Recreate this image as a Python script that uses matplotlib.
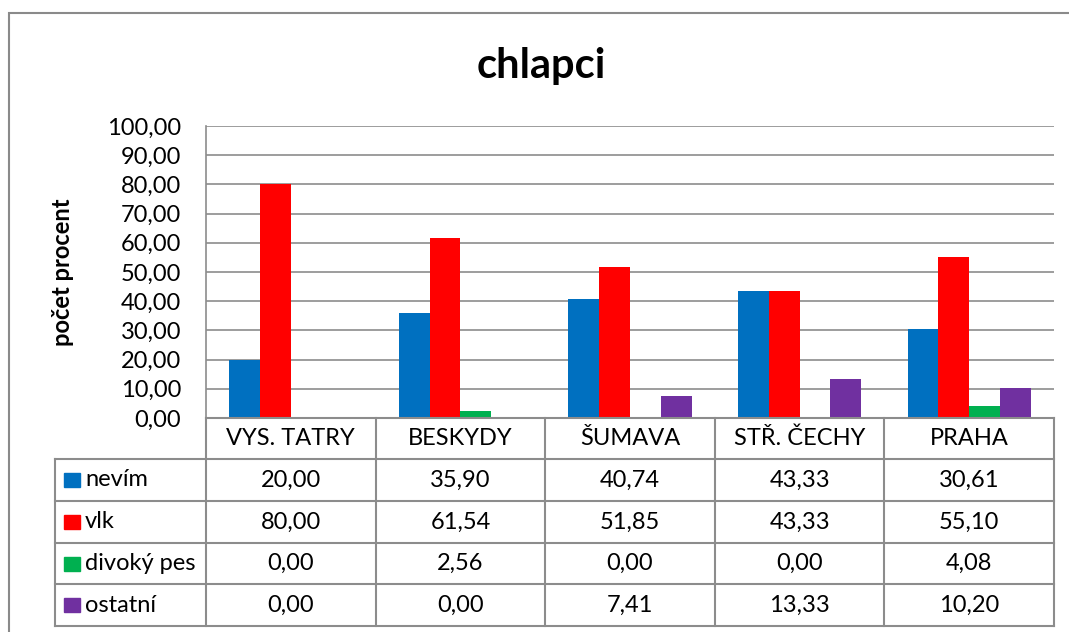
import matplotlib
matplotlib.use("Agg")
import matplotlib.pyplot as plt
from matplotlib.patches import Rectangle
from matplotlib.lines import Line2D
import numpy as np

plt.rcParams['font.family'] = ['Lato', 'DejaVu Sans']

categories = ['VYS. TATRY', 'BESKYDY', 'ŠUMAVA', 'STŘ. ČECHY', 'PRAHA']
series_names = ['nevím', 'vlk', 'divoký pes', 'ostatní']
nevim = [20.00, 35.90, 40.74, 43.33, 30.61]
vlk = [80.00, 61.54, 51.85, 43.33, 55.10]
divoky_pes = [0.00, 2.56, 0.00, 0.00, 4.08]
ostatni = [0.00, 0.00, 7.41, 13.33, 10.20]
colors = ['#0070C0', '#FF0000', '#00B050', '#7030A0']
yticks = np.arange(0, 101, 10)

series = [nevim, vlk, divoky_pes, ostatni]

W, H = 1069, 632
fig = plt.figure(figsize=(W / 100, H / 100), dpi=100)

def fx(x):
    return x / W

def fy(y):
    return 1 - y / H

grid_col = '#8c8c8c'
fs = 17

# plot area (pixel coords of the reference)
left, right, top, bottom = 206, 1054, 126, 418
ax = fig.add_axes([fx(left), fy(bottom), fx(right - left), (bottom - top) / H])

n = len(series)
gap = 1.5
bw = 1 / (n + gap)
x = np.arange(len(categories))
for i, (vals, c) in enumerate(zip(series, colors)):
    ax.bar(x - n * bw / 2 + bw * (i + 0.5), vals, width=bw, color=c, zorder=3)

ax.set_xlim(-0.5, len(categories) - 0.5)
ax.set_ylim(0, 100)
ax.set_yticks(yticks)
ax.set_yticklabels([f"{v:.2f}".replace('.', ',') for v in yticks], fontsize=fs)
ax.set_xticks([])
ax.tick_params(axis='y', length=0, pad=18)
ax.yaxis.grid(True, color=grid_col, linewidth=1.2, zorder=0)
for s in ['top', 'right', 'bottom']:
    ax.spines[s].set_visible(False)
ax.spines['left'].set_color(grid_col)
ax.spines['left'].set_linewidth(1.2)

# outer frame
fig.patches.append(Rectangle((fx(9), fy(640)), fx(1080 - 9), (640 - 13) / H,
                             transform=fig.transFigure, fill=False,
                             edgecolor='#8a8a8a', linewidth=1.5))

fig.text(fx(541), fy(66), 'chlapci', ha='center', va='center',
         fontsize=30, fontweight='bold')
fig.text(fx(63), fy(272), 'počet procent', ha='center', va='center',
         rotation=90, fontsize=17, fontweight='bold')

# data table
col_edges = np.linspace(left, right, len(categories) + 1)
row_edges = [418, 459, 501, 543, 584, 626]
tleft = 55

def hline(y, x0, x1):
    fig.lines.append(Line2D([fx(x0), fx(x1)], [fy(y), fy(y)], transform=fig.transFigure,
                            color=grid_col, linewidth=1.5))

def vline(x0, y0, y1):
    fig.lines.append(Line2D([fx(x0), fx(x0)], [fy(y0), fy(y1)], transform=fig.transFigure,
                            color=grid_col, linewidth=1.5))

hline(row_edges[0], left, right)
for y in row_edges[1:]:
    hline(y, tleft, right)
for xe in col_edges:
    vline(xe, row_edges[0], row_edges[-1])
vline(tleft, row_edges[1], row_edges[-1])

for j, cat in enumerate(categories):
    cx = (col_edges[j] + col_edges[j + 1]) / 2
    cy = (row_edges[0] + row_edges[1]) / 2
    fig.text(fx(cx), fy(cy), cat, ha='center', va='center', fontsize=fs)

for i, (name, vals, c) in enumerate(zip(series_names, series, colors)):
    cy = (row_edges[i + 1] + row_edges[i + 2]) / 2
    fig.patches.append(Rectangle((fx(64), fy(cy + 7)), fx(16), 14 / H,
                                 transform=fig.transFigure, color=c))
    fig.text(fx(85), fy(cy), name, ha='left', va='center', fontsize=fs)
    for j, v in enumerate(vals):
        cx = (col_edges[j] + col_edges[j + 1]) / 2
        fig.text(fx(cx), fy(cy), f"{v:.2f}".replace('.', ','), ha='center',
                 va='center', fontsize=fs)

fig.savefig('out.png', dpi=100)
